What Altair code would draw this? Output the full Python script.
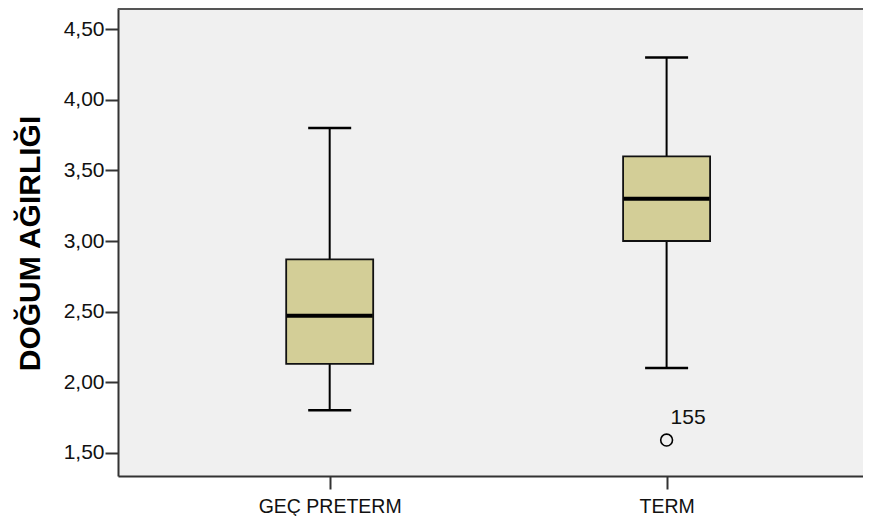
import altair as alt
import pandas as pd

# ---- data ----
categories = ["GEÇ PRETERM", "TERM"]
positions = [0, 1]
whisker_low = [1.80, 2.10]
q1 = [2.13, 3.00]
median = [2.47, 3.30]
q3 = [2.87, 3.60]
whisker_high = [3.80, 4.30]

outlier_pos = [1]
outlier_val = [1.59]
outlier_id = ["155"]

y_ticks = [1.5, 2.0, 2.5, 3.0, 3.5, 4.0, 4.5]

df = pd.DataFrame({
    "cat": categories, "pos": positions, "low": whisker_low,
    "q1": q1, "median": median, "q3": q3, "high": whisker_high,
})
out = pd.DataFrame({"pos": outlier_pos, "val": outlier_val, "id": outlier_id})

W, H = 745, 468
FONT = "Liberation Sans"
AX = "#333333"

# pixel step of 341.5 per category, first category ~210px from plot left
x0 = -209.5 / 341.5
xscale = alt.Scale(domain=[x0, x0 + W / 341.5], nice=False, zero=False)
yscale = alt.Scale(domain=[1.335, 4.651], nice=False, zero=False)

cat_js = "[" + ",".join("'" + c + "'" for c in categories) + "]"
x_axis = alt.Axis(
    values=positions, labelExpr=cat_js + "[datum.value]", grid=False,
    tickSize=13, tickWidth=2, tickColor=AX, domainColor=AX, domainWidth=2,
    labelFont=FONT, labelFontSize=19.5, labelColor="#111111", labelPadding=8,
    labelAngle=0, title=None,
)
y_axis = alt.Axis(
    values=y_ticks, labelExpr="replace(format(datum.value, '.2f'), '.', ',')",
    grid=False, tickSize=13, tickWidth=2, tickColor=AX, domainColor=AX,
    domainWidth=2, labelFont=FONT, labelFontSize=21, labelColor="#111111",
    labelPadding=1, title="DOĞUM AĞIRLIĞI", titleFont=FONT, titleFontSize=30,
    titleFontWeight="bold", titleColor="black", titleX=-88, titleY=235,
    titleAngle=270, titleAlign="center", titleBaseline="middle",
)

base = alt.Chart(df).encode(x=alt.X("pos:Q", scale=xscale, axis=x_axis))

whisker = base.mark_rule(color="black", strokeWidth=2).encode(
    y=alt.Y("low:Q", scale=yscale, axis=y_axis), y2="high:Q")
box = base.mark_bar(size=87, color="#D3CE97", stroke="#111111", opacity=1,
                    strokeWidth=1.8).encode(y="q1:Q", y2="q3:Q")
med = base.mark_tick(size=86, thickness=4, color="black", opacity=1,
                     orient="horizontal").encode(y="median:Q")
cap_lo = base.mark_tick(size=43, thickness=2.5, color="black", opacity=1,
                        orient="horizontal").encode(y="low:Q")
cap_hi = base.mark_tick(size=43, thickness=2.5, color="black", opacity=1,
                        orient="horizontal").encode(y="high:Q")

obase = alt.Chart(out).encode(x=alt.X("pos:Q", scale=xscale),
                              y=alt.Y("val:Q", scale=yscale))
opt = obase.mark_point(shape="circle", filled=False, color="black", opacity=1,
                       size=140, strokeWidth=1.6)
olab = obase.mark_text(align="left", baseline="alphabetic", dx=4, dy=-16,
                       font=FONT, fontSize=21, color="#111111").encode(text="id:N")

topline = alt.Chart(df).mark_rule(color="#555555", strokeWidth=2).encode(
    x=alt.value(0), x2=alt.value(W), y=alt.value(1))

chart = alt.layer(whisker, box, med, cap_lo, cap_hi, opt, olab, topline).properties(
    width=W, height=H,
    autosize=alt.AutoSizeParams(type="none"),
    padding={"left": 110, "top": 0, "right": 0, "bottom": 40},
).configure_view(fill="#F0F0F0", stroke=None)

chart.save("out.html", embed_options={"renderer": "svg", "actions": False})
